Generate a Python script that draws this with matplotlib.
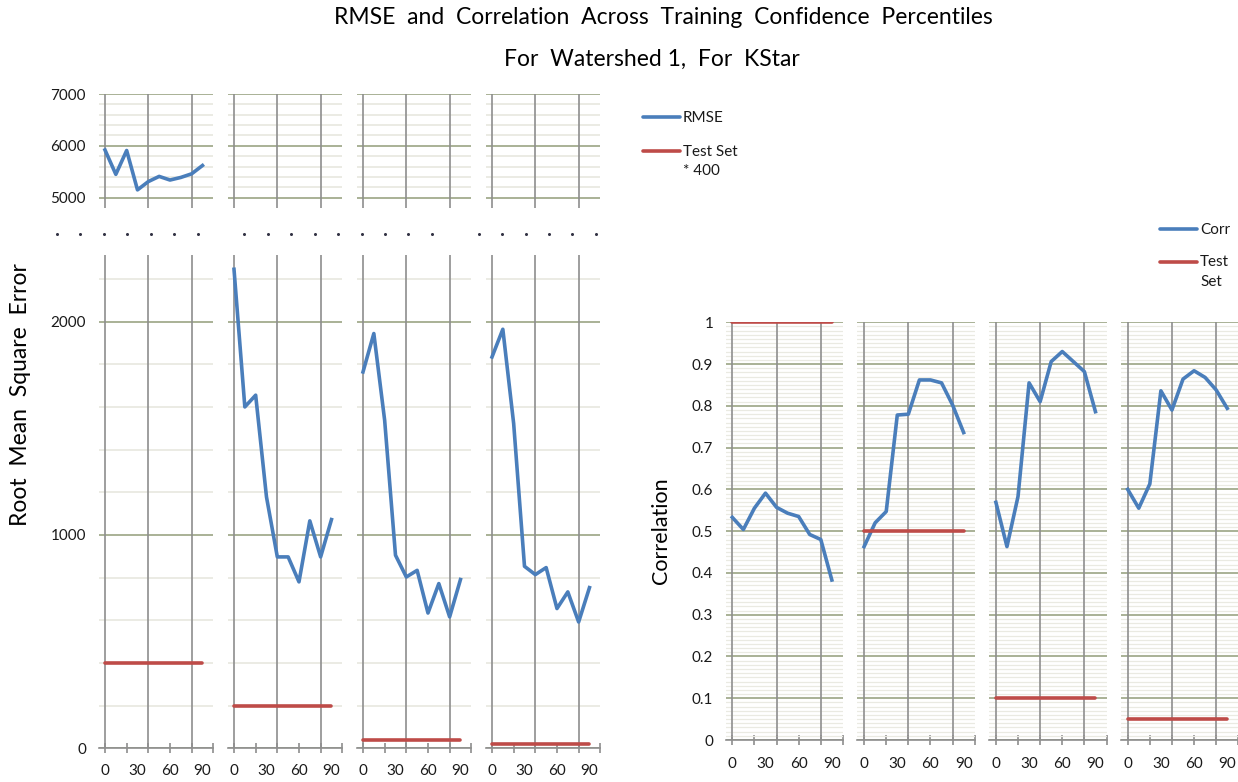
import numpy as np
import matplotlib
matplotlib.use("Agg")
import matplotlib.pyplot as plt
from matplotlib.ticker import MultipleLocator, FixedLocator, NullFormatter

plt.rcParams['font.family'] = ['Lato', 'DejaVu Sans']

# ---- data -----------------------------------------------------------
percentiles = [0, 10, 20, 30, 40, 50, 60, 70, 80, 90]
x_labels = ["0", "30", "60", "90"]

rmse_1 = [5920, 5450, 5910, 5150, 5310, 5410, 5340, 5390, 5460, 5620]
rmse_2 = [2245, 1600, 1655, 1178, 897, 897, 780, 1066, 897, 1072]
rmse_3 = [1764, 1944, 1537, 905, 803, 834, 634, 772, 616, 791]
rmse_4 = [1834, 1964, 1522, 853, 814, 847, 655, 733, 592, 753]

corr_1 = [0.533, 0.504, 0.555, 0.591, 0.557, 0.543, 0.535, 0.492, 0.480, 0.383]
corr_2 = [0.463, 0.520, 0.547, 0.778, 0.780, 0.862, 0.862, 0.855, 0.802, 0.736]
corr_3 = [0.569, 0.463, 0.583, 0.855, 0.810, 0.906, 0.930, 0.906, 0.882, 0.786]
corr_4 = [0.600, 0.555, 0.613, 0.836, 0.790, 0.864, 0.884, 0.868, 0.838, 0.794]

test_set = [1.0, 0.5, 0.1, 0.05]
test_scale = 400

rmse_series = [rmse_1, rmse_2, rmse_3, rmse_4]
corr_series = [corr_1, corr_2, corr_3, corr_4]

# ---- styling --------------------------------------------------------
W, H = 1238, 782
BLUE = "#4A7EBB"
RED = "#BE4B48"
VGRID = "#8E8E8E"
MAJOR = "#A2AB8E"
MINOR = "#E6E6DD"
MINOR_C = "#EAEAE2"
TXT = "#1A1A1A"
LW = 2.6
TICK_FS = 11

fig = plt.figure(figsize=(W / 100, H / 100), dpi=100)


def box(x0, y0, x1, y1):
    return [x0 / W, 1 - y1 / H, (x1 - x0) / W, (y1 - y0) / H]


xs = np.arange(len(percentiles))
label_idx = [0, 3, 6, 9]


def style_panel(ax, ylim, major, minor, minor_color, minor_lw, show_y, xaxis,
                ypad, xpad):
    ax.set_xlim(-0.6, 10)
    ax.set_ylim(*ylim)
    ax.set_facecolor("none")
    ax.set_axisbelow(True)
    for s in ("top", "right", "left"):
        ax.spines[s].set_visible(False)
    ax.yaxis.set_major_locator(MultipleLocator(major))
    ax.yaxis.set_minor_locator(MultipleLocator(minor))
    ax.grid(True, axis="y", which="minor", color=minor_color, lw=minor_lw)
    ax.grid(True, axis="y", which="major", color=MAJOR, lw=1.3)
    for v in (0, 4, 8):
        ax.axvline(v, color=VGRID, lw=1.2, zorder=2)
    ax.tick_params(axis="y", which="both", length=0, pad=ypad,
                   labelsize=TICK_FS, labelcolor=TXT)
    if not show_y:
        ax.yaxis.set_major_formatter(NullFormatter())
    if xaxis:
        ax.spines["bottom"].set_color(VGRID)
        ax.spines["bottom"].set_linewidth(1.2)
        ax.spines["bottom"].set_zorder(2)
        ax.xaxis.set_major_locator(FixedLocator([0, 2, 4, 6, 8, 10]))
        ax.xaxis.set_major_formatter(NullFormatter())
        ax.tick_params(axis="x", which="major", direction="inout", length=7,
                       width=1.2, color=VGRID)
        for i, lab in zip(label_idx, x_labels):
            ax.annotate(lab, (xs[i], 0), xycoords=("data", "axes fraction"),
                        xytext=(0, -xpad), textcoords="offset points",
                        ha="center", va="center", fontsize=TICK_FS, color=TXT)
    else:
        ax.spines["bottom"].set_visible(False)
        ax.set_xticks([])


# ---- RMSE panels (broken y axis) ------------------------------------
rmse_cat0 = 105.0
rmse_step = 129.0
rmse_px = 10.83
for k, (vals, t) in enumerate(zip(rmse_series, test_set)):
    c0 = rmse_cat0 + k * rmse_step
    x0, x1 = c0 - 0.6 * rmse_px, c0 + 10 * rmse_px
    top = fig.add_axes(box(x0, 94, x1, 207.5))
    style_panel(top, (4810, 7000), 1000, 200, MINOR, 1.1, k == 0, False, 9, 0)
    top.set_yticks([5000, 6000, 7000])
    top.plot(xs, vals, color=BLUE, lw=LW, solid_joinstyle="round", zorder=3)

    bot = fig.add_axes(box(x0, 255, x1, 748.3))
    style_panel(bot, (0, 2312), 1000, 200, MINOR, 1.1, k == 0, True, 9, 16.5)
    bot.plot(xs, vals, color=BLUE, lw=LW, solid_joinstyle="round", zorder=3)
    bot.plot(xs, [t * test_scale] * len(xs), color=RED, lw=LW,
             solid_capstyle="round", zorder=3)

# ---- Correlation panels ---------------------------------------------
corr_cat0 = 732.3
corr_step = 131.8
corr_px = 11.06
for k, (vals, t) in enumerate(zip(corr_series, test_set)):
    c0 = corr_cat0 + k * corr_step
    x0, x1 = c0 - 0.6 * corr_px, c0 + 10 * corr_px
    ax = fig.add_axes(box(x0, 322.3, x1, 740))
    style_panel(ax, (0, 1), 0.1, 0.01, MINOR_C, 0.9, k == 0, True, 9, 17)
    if k == 0:
        ax.yaxis.set_major_formatter(
            plt.FuncFormatter(lambda v, p: "%g" % round(v, 2)))
    ax.plot(xs, vals, color=BLUE, lw=LW, solid_joinstyle="round", zorder=3)
    ax.plot(xs, [t] * len(xs), color=RED, lw=LW, solid_capstyle="round",
            zorder=3)

# ---- overlay: titles, axis names, legends, break marks --------------
ov = fig.add_axes([0, 0, 1, 1])
ov.set_xlim(0, W)
ov.set_ylim(H, 0)
ov.axis("off")

ov.text(663, 18, "RMSE  and  Correlation  Across  Training  Confidence  Percentiles",
        ha="center", va="center", fontsize=16.5, color="#000000")
ov.text(652, 59, "For  Watershed 1,  For  KStar",
        ha="center", va="center", fontsize=16.5, color="#000000")

ov.text(21, 395, "Root  Mean  Square  Error", rotation=90,
        ha="center", va="center", fontsize=16.5, color="#000000")
ov.text(661, 531, "Correlation", rotation=90,
        ha="center", va="center", fontsize=15.5, color="#000000")

# legend entries
for (lx, ly, name) in [(643, 117, "RMSE"), (1160, 229, "Corr")]:
    ov.plot([lx, lx + 37], [ly, ly], color=BLUE, lw=LW, solid_capstyle="round")
    ov.text(lx + 40, ly + 1, name, ha="left", va="center", fontsize=11, color=TXT)
for (lx, ly, name) in [(643, 151, "Test Set\n* 400"), (1160, 262, "Test\nSet")]:
    ov.plot([lx, lx + 37], [ly, ly], color=RED, lw=LW, solid_capstyle="round")
    ov.text(lx + 40, ly - 6.5, name, ha="left", va="top", fontsize=11,
            color=TXT, linespacing=1.5)

# axis-break dots between the two RMSE sections
dot_x = 57 + 23.43 * np.arange(24)
dot_x = np.delete(dot_x, [7, 17])
ov.plot(dot_x, np.full(dot_x.shape, 233.5), ls="none", marker="o",
        ms=2.2, color="#333344", mew=0)

fig.savefig("out.png", dpi=100)
